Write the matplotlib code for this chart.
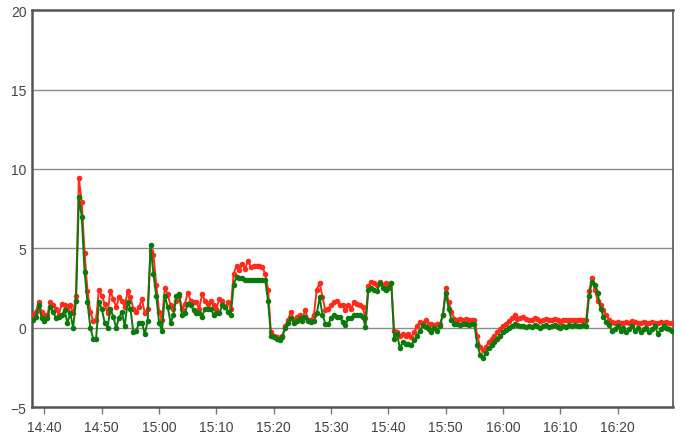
import numpy as np
import pandas as pd
import matplotlib
matplotlib.use("Agg")
import matplotlib.pyplot as plt
import matplotlib.dates as mdates

plt.rcParams['font.family'] = ['Liberation Sans', 'DejaVu Sans']

# Messzeitpunkte: alle 30 s ab 14:38
start = "2020-01-01 14:38:00"
n_points = 224

# Werte rot (obere Kurve), je Zeile 5 Minuten
red = [
    0.8, 1.0, 1.6, 1.0, 0.8, 0.8, 1.6, 1.4, 1.2, 0.8,
    1.5, 1.4, 1.2, 1.4, 0.9, 2.0, 9.4, 7.9, 4.7, 2.3,
    1.0, 0.4, 0.5, 2.4, 2.0, 1.5, 0.9, 2.3, 1.8, 1.3,
    1.9, 1.7, 1.3, 2.3, 1.9, 1.2, 1.0, 1.3, 1.8, 0.9,
    1.2, 4.8, 4.6, 2.7, 1.0, 0.5, 2.5, 2.1, 1.4, 1.2,
    1.7, 2.0, 1.2, 1.5, 2.2, 1.7, 1.6, 1.6, 1.2, 2.1,
    1.7, 1.5, 1.7, 1.4, 1.2, 1.8, 1.7, 1.3, 1.6, 1.2,
    3.4, 3.9, 3.6, 4.0, 3.7, 4.2, 3.8, 3.9, 3.9, 3.9,
    3.8, 3.4, 2.4, -0.3, -0.5, -0.6, -0.7, -0.5, 0.1, 0.5,
    1.0, 0.5, 0.7, 0.8, 0.6, 1.1, 0.5, 0.5, 0.8, 2.4,
    2.8, 1.9, 1.1, 1.2, 1.4, 1.6, 1.7, 1.4, 1.4, 1.1,
    1.4, 1.2, 1.6, 1.5, 1.4, 1.3, 0.6, 2.6, 2.9, 2.8,
    2.7, 2.9, 2.7, 2.8, 2.7, 2.8, -0.2, -0.3, -0.5, -0.4,
    -0.5, -0.4, -0.6, -0.3, 0.1, 0.35, 0.3, 0.45, 0.25, 0.2,
    0.15, 0.2, 0.25, 0.8, 2.5, 1.6, 1.0, 0.55, 0.5, 0.55,
    0.5, 0.55, 0.5, 0.45, 0.5, -0.5, -1.2, -1.4, -1.2, -0.9,
    -0.7, -0.5, -0.3, -0.1, 0.1, 0.25, 0.4, 0.6, 0.8, 0.55,
    0.6, 0.65, 0.55, 0.5, 0.45, 0.6, 0.55, 0.4, 0.5, 0.55,
    0.45, 0.5, 0.55, 0.45, 0.35, 0.5, 0.45, 0.5, 0.45, 0.5,
    0.45, 0.5, 0.45, 0.5, 2.3, 3.1, 2.4, 1.7, 1.4, 1.1,
    0.8, 0.5, 0.35, 0.3, 0.35, 0.3, 0.3, 0.35, 0.3, 0.4,
    0.35, 0.3, 0.3, 0.35, 0.3, 0.3, 0.35, 0.3, 0.3, 0.35,
    0.3, 0.35, 0.3, 0.3,
]

# Werte grün (untere Kurve)
green = [
    0.5, 0.7, 1.4, 0.6, 0.4, 0.6, 1.3, 1.0, 0.6, 0.7,
    0.8, 1.1, 0.3, 0.9, 0.0, 1.7, 8.2, 7.0, 3.5, 1.6,
    0.0, -0.7, -0.7, 1.6, 1.2, 0.3, 0.0, 1.2, 0.7, 0.0,
    0.6, 1.0, 0.1, 1.6, 1.2, -0.3, -0.2, 0.3, 0.3, -0.4,
    0.4, 5.2, 3.4, 2.0, 0.3, -0.2, 2.0, 1.3, 0.3, 0.8,
    2.0, 2.1, 0.8, 0.9, 1.5, 1.4, 1.1, 0.9, 0.9, 0.7,
    1.2, 1.2, 1.2, 0.8, 0.9, 0.9, 1.4, 1.3, 1.0, 0.8,
    2.7, 3.2, 3.1, 3.1, 3.0, 3.0, 3.0, 3.0, 3.0, 3.0,
    3.0, 3.0, 1.7, -0.5, -0.6, -0.7, -0.8, -0.6, 0.0, 0.3,
    0.6, 0.3, 0.4, 0.6, 0.4, 0.7, 0.4, 0.35, 0.4, 0.9,
    1.9, 0.8, 0.25, 0.2, 0.6, 0.8, 0.7, 0.7, 0.35, 0.15,
    0.6, 0.6, 0.8, 0.8, 0.8, 0.7, 0.05, 2.4, 2.5, 2.4,
    2.3, 2.8, 2.5, 2.4, 2.5, 2.8, -0.7, -0.4, -1.3, -0.9,
    -1.0, -1.0, -1.1, -0.8, -0.5, -0.2, 0.15, 0.05, -0.1, -0.3,
    0.0, -0.2, 0.1, 0.8, 2.2, 1.2, 0.5, 0.25, 0.2, 0.15,
    0.2, 0.25, 0.15, 0.2, 0.2, -1.1, -1.7, -1.9, -1.6, -1.3,
    -1.1, -0.9, -0.7, -0.5, -0.3, -0.15, 0.0, 0.1, 0.2, 0.15,
    0.1, 0.1, 0.05, 0.1, 0.05, 0.15, 0.1, 0.0, 0.1, 0.15,
    0.05, 0.1, 0.15, 0.05, 0.0, 0.1, 0.05, 0.15, 0.1, 0.15,
    0.1, 0.1, 0.15, 0.1, 2.0, 2.9, 2.7, 2.2, 1.2, 0.7,
    0.35, 0.15, -0.2, -0.1, 0.1, -0.2, 0.0, -0.3, -0.1, 0.1,
    -0.2, 0.0, -0.3, -0.1, 0.0, -0.3, -0.1, 0.1, -0.4, -0.1,
    0.1, 0.0, -0.1, -0.2,
]

times = pd.date_range(start, periods=n_points, freq="30s")

fig = plt.figure(figsize=(6.82, 4.39), dpi=100)
ax = fig.add_axes([0.047, 0.0706, 0.940, 0.904])

ax.plot(times, red, color='#ff2a1a', linewidth=1.4, marker='o', markersize=4,
        markeredgewidth=0, zorder=3)
ax.plot(times, green, color='#0b7a0c', linewidth=1.4, marker='o', markersize=4,
        markeredgewidth=0, zorder=4)

ax.set_ylim(-5, 20)
ax.set_yticks([-5, 0, 5, 10, 15, 20])
ax.set_xlim(pd.Timestamp("2020-01-01 14:37:50"), pd.Timestamp("2020-01-01 16:29:40"))
ax.xaxis.set_major_locator(mdates.MinuteLocator(byminute=range(0, 60, 10)))
ax.xaxis.set_major_formatter(mdates.DateFormatter('%H:%M'))

for y in [0, 5, 10, 15]:
    ax.axhline(y, color='#8c8c8c', linewidth=1.0, zorder=1)

for side in ['left', 'bottom', 'top', 'right']:
    ax.spines[side].set_color('#555555')
    ax.spines[side].set_linewidth(1.8)
ax.spines['right'].set_linewidth(1.2)

ax.tick_params(axis='y', length=0, pad=4, labelsize=10, labelcolor='#444444')
ax.tick_params(axis='x', length=5, width=1, color='#777777', pad=4,
               labelsize=10, labelcolor='#444444')

plt.savefig('out.png', dpi=100)
plt.close()
